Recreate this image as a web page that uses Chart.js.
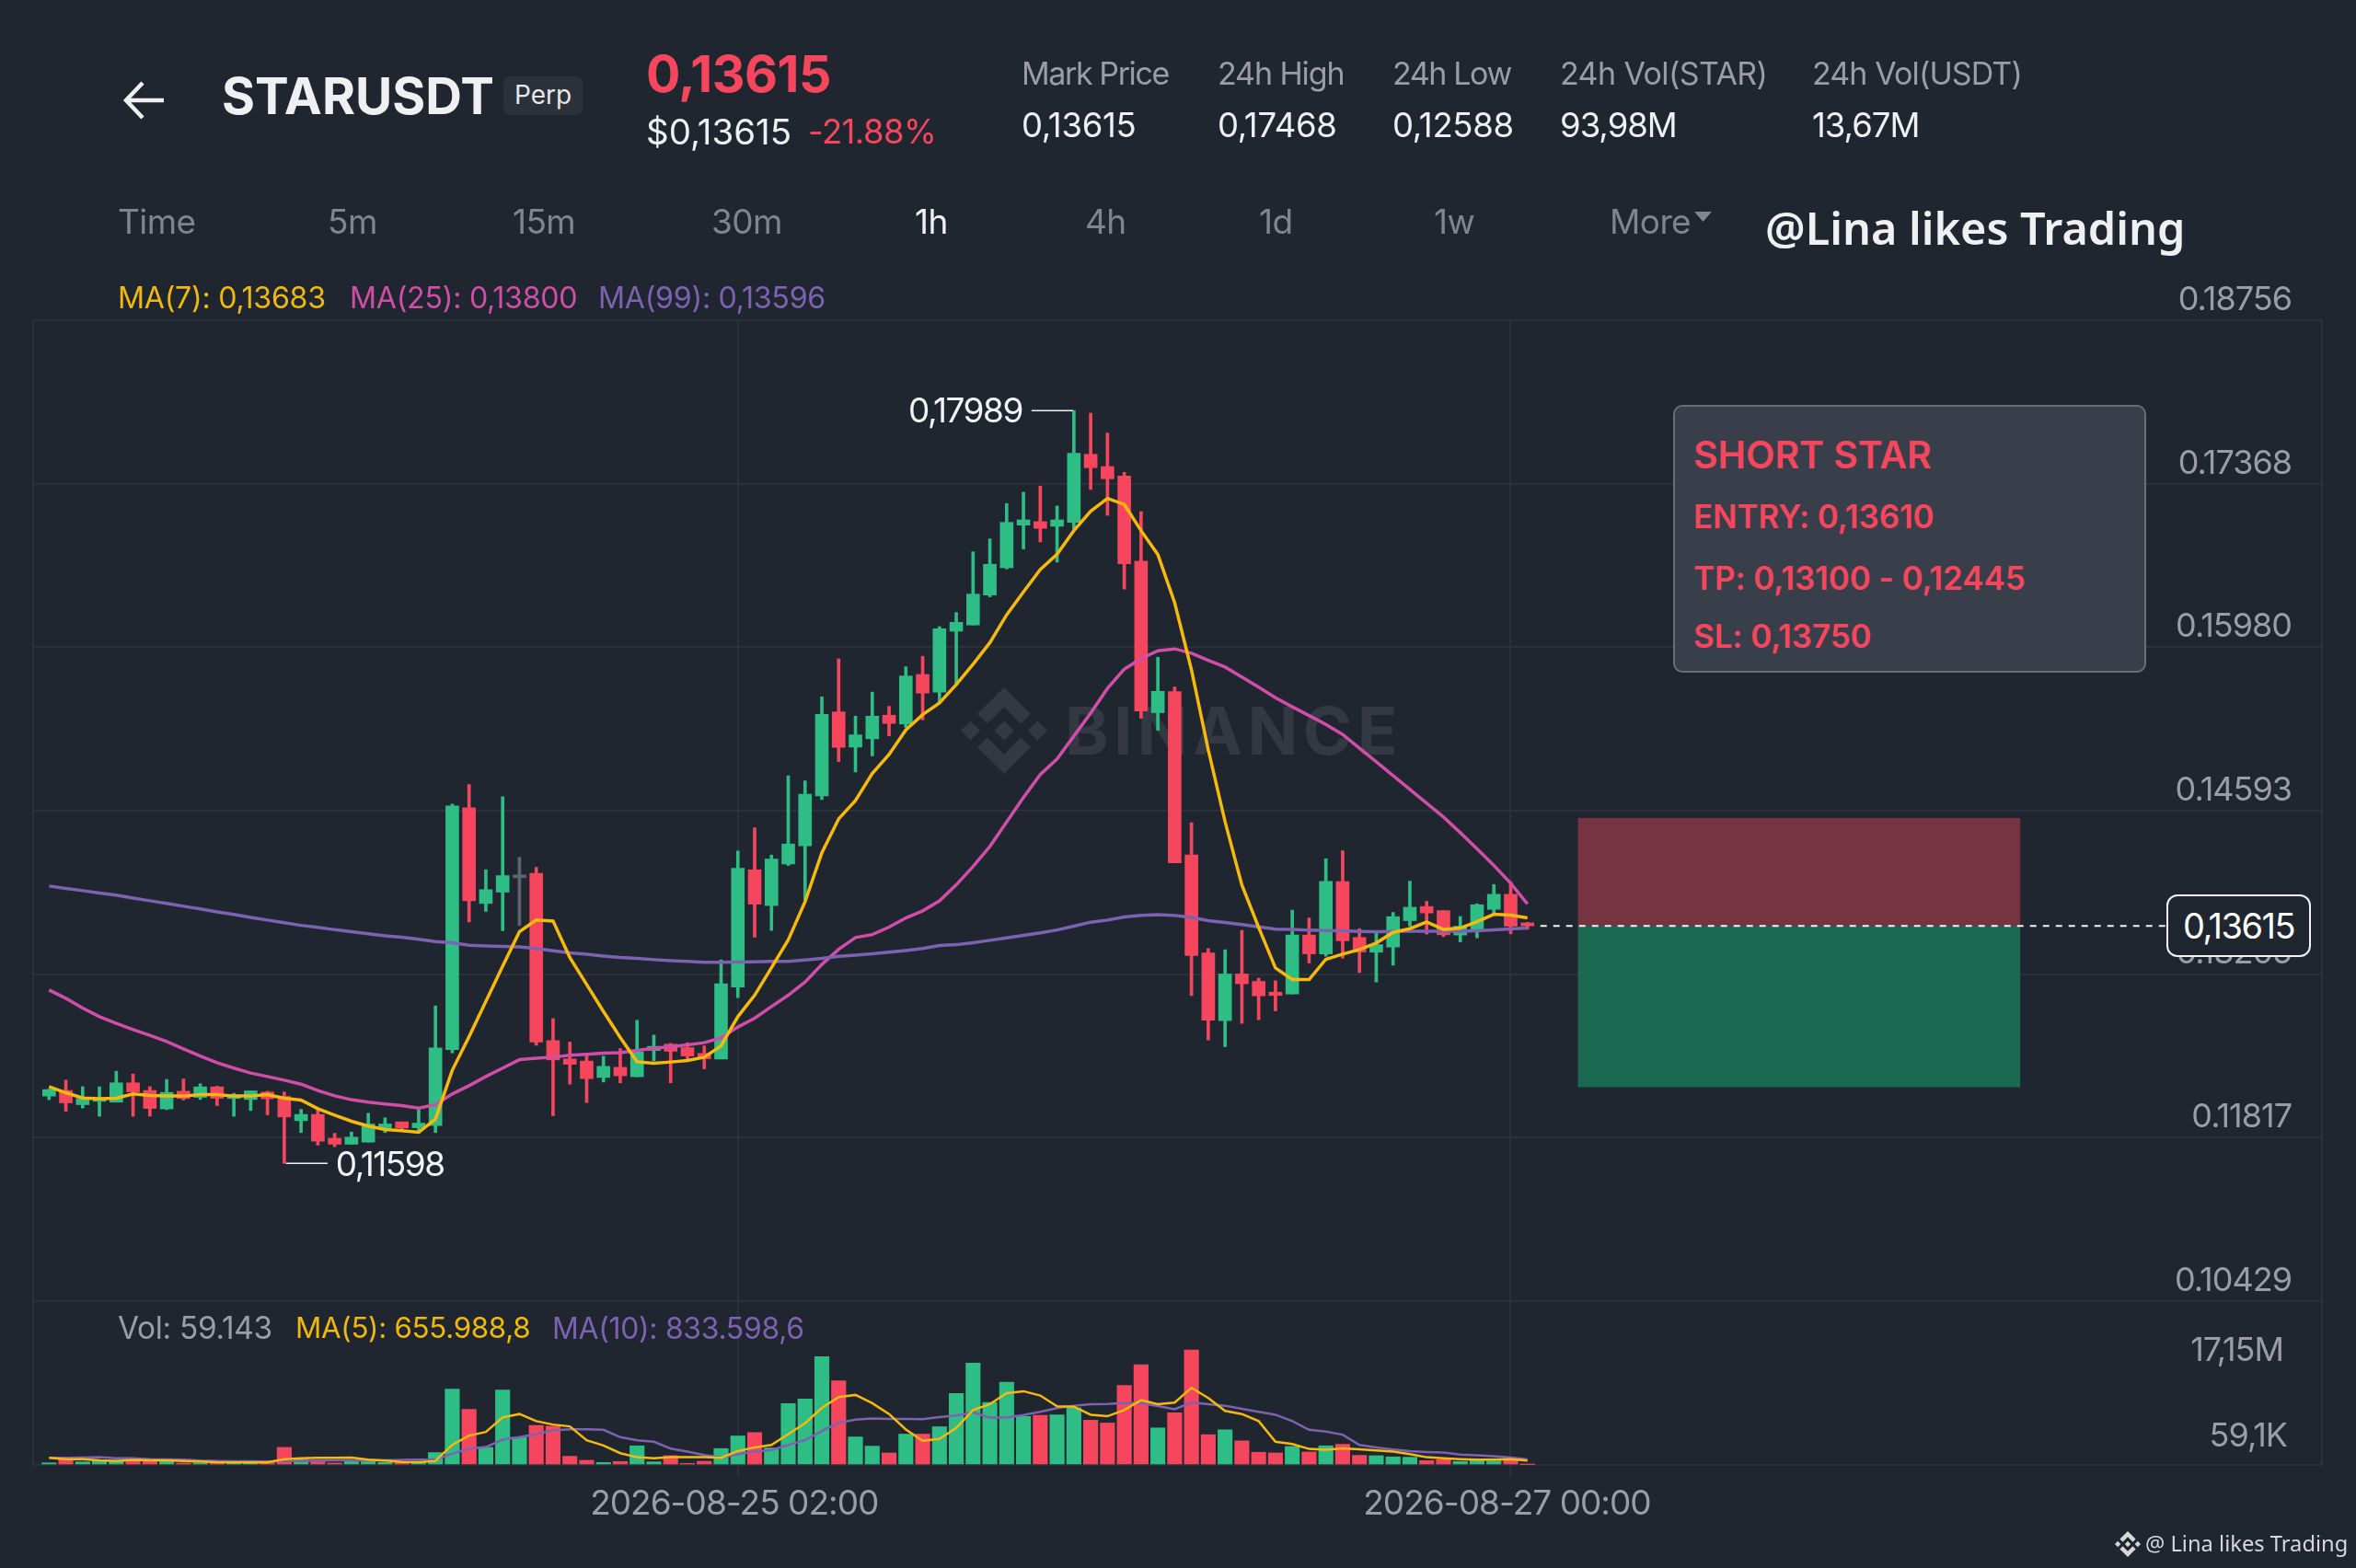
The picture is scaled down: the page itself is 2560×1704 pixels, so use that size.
<!DOCTYPE html>
<html>
<head>
<meta charset="utf-8">
<title>STARUSDT Perp</title>
<script src="https://cdn.jsdelivr.net/npm/chart.js@4"></script>
<style>
  html, body { margin: 0; padding: 0; background: #1f2630; }
  #page { position: relative; width: 2560px; height: 1704px; overflow: hidden; background: #1f2630; font-family: Inter, sans-serif; }
  #chart { position: absolute; left: 0; top: 0; }
  .t { position: absolute; white-space: nowrap; transform: translateY(-50%); line-height: 1; letter-spacing: -0.6px; }
  .grey { color: #9a9da5; }
  .dim { color: #80848d; }
  .white { color: #eef0f2; }
  .red { color: #f6465d; }
  .yellow { color: #f0b90b; }
  .pink { color: #d14ea8; }
  .purple { color: #7e62b2; }
  .stat { font-size: 34px; letter-spacing: -1.4px; }
  .val { font-size: 36.5px; letter-spacing: -0.3px; }
  .tab { font-size: 37px; }
  .ma { font-size: 32.2px; letter-spacing: -0.3px; }
  #panel { position: absolute; left: 1818px; top: 440px; width: 510px; height: 287px; background: #393f4a; border: 2px solid #686d76; border-radius: 10px; }
  #panel .t { font-weight: 600; color: #f6465d; font-size: 35px; left: 20px; letter-spacing: -0.1px; }
  #pricetag { position: absolute; left: 2354px; top: 972px; width: 153px; height: 64px; background: #1f2630; border: 2px solid #f2f3f5; border-radius: 12px; color: #fff; font-size: 38px; line-height: 64px; text-align: center; letter-spacing: -1.5px; }
  #badge { position: absolute; left: 547px; top: 83px; width: 86px; height: 42px; background: #2b3139; border-radius: 6px; color: #e6e8ea; font-size: 28px; line-height: 40px; text-align: center; }
  #watermark { position: absolute; left: 1044px; top: 747px; width: 94px; height: 94px; fill: #333843; }
  #marktext { position: absolute; left: 1157px; top: 794px; color: #333843; font-size: 72px; font-weight: 700; letter-spacing: 5.5px; transform: translateY(-50%); line-height: 1; }
</style>
</head>
<body>
<div id="page">
  <svg id="watermark" viewBox="0 0 126.61 126.61"><path d="M38.73 53.2l24.59-24.58 24.6 24.6 14.3-14.31L63.32 0 24.43 38.89z"/><path d="M0 63.31l14.3-14.31 14.31 14.31-14.31 14.3z"/><path d="M38.73 73.41l24.59 24.59 24.6-24.6 14.31 14.29-38.9 38.91-38.91-38.88-.02-.02z"/><path d="M98 63.31l14.3-14.31 14.31 14.3-14.31 14.32z"/><path d="M77.83 63.3L63.32 48.78 52.59 59.51l-1.24 1.23-2.54 2.54 14.51 14.5 14.51-14.47z"/></svg>
  <div id="marktext">BINANCE</div>
  <canvas id="chart" width="2560" height="1704"></canvas>

  <svg style="position:absolute;left:132px;top:86px" width="50" height="46" viewBox="0 0 50 46"><path d="M46 23H6M23 4L5 23l18 19" fill="none" stroke="#eef0f2" stroke-width="4.5"/></svg>
  <div class="t white" style="left:241px;top:104px;font-size:55px;font-weight:700;letter-spacing:0">STARUSDT</div>
  <div id="badge">Perp</div>
  <div class="t red" style="left:702px;top:80px;font-size:55.5px;font-weight:700;letter-spacing:-0.5px">0,13615</div>
  <div class="t white" style="left:702px;top:143px;font-size:38.5px;letter-spacing:0">$0,13615</div>
  <div class="t red" style="left:878px;top:143px;font-size:36.5px">-21.88%</div>

  <div class="t stat grey" style="left:1110px;top:80px">Mark Price</div>
  <div class="t val white" style="left:1110px;top:136px">0,13615</div>
  <div class="t stat grey" style="left:1323px;top:80px;letter-spacing:-1.1px">24h High</div>
  <div class="t val white" style="left:1323px;top:136px">0,17468</div>
  <div class="t stat grey" style="left:1513px;top:80px">24h Low</div>
  <div class="t val white" style="left:1513px;top:136px">0,12588</div>
  <div class="t stat grey" style="left:1695px;top:80px;letter-spacing:-0.6px">24h Vol(STAR)</div>
  <div class="t val white" style="left:1695px;top:136px;letter-spacing:-1px">93,98M</div>
  <div class="t stat grey" style="left:1969px;top:80px;letter-spacing:-0.9px">24h Vol(USDT)</div>
  <div class="t val white" style="left:1969px;top:136px;letter-spacing:-1px">13,67M</div>

  <div class="t tab dim" style="left:128px;top:240px">Time</div>
  <div class="t tab dim" style="left:356px;top:240px">5m</div>
  <div class="t tab dim" style="left:557px;top:240px">15m</div>
  <div class="t tab dim" style="left:773px;top:240px">30m</div>
  <div class="t tab white" style="left:994px;top:240px">1h</div>
  <div class="t tab dim" style="left:1179px;top:240px">4h</div>
  <div class="t tab dim" style="left:1368px;top:240px">1d</div>
  <div class="t tab dim" style="left:1558px;top:240px">1w</div>
  <div class="t tab dim" style="left:1749px;top:240px">More</div>
  <svg style="position:absolute;left:1841px;top:230px" width="19" height="11"><path d="M0 0h19L9.5 11z" fill="#80848d"/></svg>
  <div class="t" style="left:1918px;top:247px;font-family:'Noto Sans';font-size:48.6px;font-weight:600;color:#eef0f2;letter-spacing:0">@Lina likes Trading</div>

  <div class="t ma yellow" style="left:128px;top:324px">MA(7): 0,13683</div>
  <div class="t ma pink" style="left:380px;top:324px">MA(25): 0,13800</div>
  <div class="t ma purple" style="left:650px;top:324px">MA(99): 0,13596</div>

  <div class="t ma grey" style="left:128px;top:1444px;font-size:33.4px">Vol: 59.143</div>
  <div class="t ma yellow" style="left:321px;top:1444px;font-size:31.3px">MA(5): 655.988,8</div>
  <div class="t ma purple" style="left:600px;top:1444px;font-size:31.9px">MA(10): 833.598,6</div>

  <div id="panel">
    <div class="t" style="top:52px;font-size:41px">SHORT STAR</div>
    <div class="t" style="top:119px">ENTRY: 0,13610</div>
    <div class="t" style="top:186px">TP: 0,13100 - 0,12445</div>
    <div class="t" style="top:249px">SL: 0,13750</div>
  </div>
  <div id="pricetag">0,13615</div>

  <svg style="position:absolute;left:2298px;top:1664px;fill:#d5d7da" width="28" height="28" viewBox="0 0 126.61 126.61"><path d="M38.73 53.2l24.59-24.58 24.6 24.6 14.3-14.31L63.32 0 24.43 38.89z"/><path d="M0 63.31l14.3-14.31 14.31 14.31-14.31 14.3z"/><path d="M38.73 73.41l24.59 24.59 24.6-24.6 14.31 14.29-38.9 38.91-38.91-38.88-.02-.02z"/><path d="M98 63.31l14.3-14.31 14.31 14.3-14.31 14.32z"/><path d="M77.83 63.3L63.32 48.78 52.59 59.51l-1.24 1.23-2.54 2.54 14.51 14.5 14.51-14.47z"/></svg>
  <div class="t" style="left:2331px;top:1678px;font-family:'Noto Sans';font-size:23.7px;color:#d5d7da;letter-spacing:0">@ Lina likes Trading</div>
</div>

<script>
// Candles
const opens = [.12170,.12217,.12097,.12125,.12118,.12282,.12217,.12061,.12211,.12159,
  .12248,.12149,.12141,.12204,.12167,.11961,.12014,.11811,.11761,.11779,
  .11901,.11951,.11901,.11920,.12565,.14617,.13805,.13901,.14023,.14060,
  .12641,.12485,.12467,.12328,.12414,.12334,.12557,.12610,.12581,.12532,
  .12485,.13096,.14091,.13787,.14140,.14294,.14718,.15431,.15132,.15203,
  .15403,.15328,.15749,.15599,.16116,.16169,.16423,.16655,.17017,.17046,
  .17007,.17040,.17618,.17514,.17434,.16710,.15424,.15603,.14216,.13385,
  .12810,.13206,.13143,.13052,.13037,.13537,.13377,.13990,.13516,.13391,
  .13435,.13659,.13779,.13744,.13537,.13573,.13755,.13883,.13640];
const highs = [.12229,.12305,.12250,.12248,.12381,.12357,.12250,.12311,.12315,.12274,
  .12253,.12193,.12214,.12211,.12204,.12057,.12057,.11854,.11865,.12024,
  .11985,.11951,.12055,.12935,.14648,.14814,.14091,.14711,.14197,.14112,
  .12828,.12628,.12514,.12508,.12573,.12813,.12688,.12617,.12623,.12596,
  .13326,.14250,.14447,.14216,.14888,.14846,.15559,.15882,.15395,.15599,
  .15478,.15814,.15903,.16155,.16275,.16790,.16900,.17200,.17296,.17348,
  .17179,.17989,.17967,.17798,.17465,.17132,.15895,.15642,.14490,.13422,
  .13412,.13576,.13170,.13149,.13748,.13682,.14185,.14252,.13591,.13552,
  .13729,.13994,.13823,.13744,.13695,.13802,.13966,.13990,.13645];
const lows = [.12139,.12042,.12068,.11998,.12118,.11998,.12000,.12055,.12136,.12141,
  .12089,.11998,.12047,.12011,.11598,.11860,.11753,.11740,.11761,.11779,
  .11860,.11881,.11854,.11860,.12537,.13648,.13737,.13573,.13617,.12602,
  .12003,.12271,.12115,.12289,.12282,.12334,.12469,.12282,.12479,.12401,
  .12485,.13006,.13518,.13576,.14127,.13833,.14687,.15010,.14921,.15057,
  .15228,.15299,.15364,.15513,.15656,.16169,.16408,.16645,.16814,.16874,
  .16702,.16983,.17319,.17100,.16473,.15377,.15275,.14149,.13024,.12646,
  .12589,.12787,.12818,.12893,.13037,.13299,.13357,.13341,.13219,.13138,
  .13281,.13612,.13545,.13523,.13479,.13513,.13716,.13547,.13586];
const closes = [.12225,.12112,.12149,.12154,.12282,.12206,.12065,.12201,.12149,.12248,
  .12151,.12180,.12214,.12147,.11993,.12014,.11787,.11761,.11821,.11933,
  .11933,.11899,.11940,.12578,.14632,.13828,.13922,.14041,.14047,.12628,
  .12477,.12440,.12318,.12422,.12342,.12545,.12592,.12550,.12510,.12487,
  .13123,.14104,.13799,.14182,.14310,.14732,.15411,.15130,.15236,.15395,
  .15333,.15736,.15591,.16137,.16192,.16431,.16684,.17040,.17061,.16989,
  .17061,.17626,.17504,.17410,.16689,.15439,.15606,.14149,.13362,.12815,
  .13206,.13123,.13021,.13024,.13537,.13377,.13992,.13487,.13393,.13455,
  .13693,.13773,.13724,.13539,.13612,.13794,.13883,.13612,.13615];
const flatCandles = [28]; // the grey doji

const ma7 = [.12250,.12198,.12154,.12147,.12151,.12188,.12175,.12170,.12170,.12182,
  .12182,.12170,.12170,.12182,.12151,.12136,.12063,.12008,.11956,.11915,
  .11886,.11876,.11862,.11975,.12389,.12674,.12974,.13273,.13565,.13664,
  .13656,.13346,.13117,.12888,.12667,.12461,.12448,.12459,.12471,.12500,
  .12596,.12844,.13026,.13260,.13495,.13820,.14236,.14523,.14679,.14908,
  .15070,.15278,.15408,.15507,.15663,.15835,.16019,.16255,.16450,.16640,
  .16770,.16970,.17134,.17243,.17192,.16970,.16767,.16358,.15788,.15109,
  .14500,.13963,.13602,.13258,.13159,.13159,.13331,.13375,.13414,.13469,
  .13560,.13591,.13648,.13584,.13596,.13651,.13713,.13705,.13683];
const ma25 = [.13070,.13000,.12917,.12844,.12787,.12735,.12685,.12633,.12571,.12510,
  .12453,.12407,.12365,.12336,.12305,.12271,.12217,.12172,.12139,.12118,
  .12102,.12089,.12068,.12097,.12188,.12258,.12336,.12407,.12479,.12492,
  .12500,.12516,.12524,.12534,.12539,.12557,.12576,.12589,.12604,.12623,
  .12664,.12756,.12831,.12930,.13026,.13138,.13287,.13416,.13516,.13541,
  .13604,.13682,.13742,.13826,.13963,.14119,.14289,.14497,.14705,.14900,
  .15031,.15226,.15421,.15630,.15794,.15884,.15950,.15966,.15929,.15869,
  .15812,.15728,.15642,.15552,.15474,.15400,.15325,.15239,.15122,.15007,
  .14890,.14773,.14656,.14539,.14406,.14268,.14127,.13976,.13800];
const ma99 = [.13953,.13933,.13914,.13894,.13875,.13851,.13828,.13805,.13781,.13758,
  .13734,.13711,.13687,.13664,.13641,.13619,.13602,.13582,.13566,.13547,
  .13531,.13518,.13500,.13482,.13471,.13451,.13445,.13440,.13437,.13422,
  .13404,.13385,.13373,.13359,.13346,.13338,.13328,.13320,.13313,.13305,
  .13305,.13307,.13310,.13313,.13313,.13326,.13338,.13357,.13367,.13377,
  .13391,.13406,.13422,.13448,.13455,.13471,.13492,.13513,.13534,.13555,
  .13580,.13612,.13646,.13664,.13690,.13703,.13709,.13703,.13687,.13659,
  .13643,.13625,.13607,.13586,.13584,.13578,.13576,.13573,.13568,.13565,
  .13568,.13570,.13570,.13570,.13570,.13573,.13580,.13588,.13596];

// Volume in millions
const volumes = [.32,.92,.46,.69,.69,.69,.60,.69,.28,.32,
  .46,.41,.41,.32,2.62,.78,.69,.28,.78,.69,
  .37,.46,.46,1.84,11.31,8.28,2.62,11.17,4.14,5.89,
  5.79,1.29,.69,.37,.51,2.85,.46,1.38,.23,.55,
  2.44,4.32,4.83,2.53,9.15,9.84,16.14,12.55,4.18,2.80,
  1.79,4.60,4.60,5.70,10.67,15.17,9.33,12.32,7.22,7.40,
  7.45,8.51,6.67,6.25,11.86,14.94,5.52,7.77,17.15,4.51,
  5.24,3.59,1.89,1.79,2.76,1.93,2.85,3.08,1.43,1.38,
  1.20,1.15,.64,.78,.51,.69,.60,.92,.059];
const volMa5 = [1.06,.87,.87,.69,.60,.74,.69,.69,.60,.51,
  .41,.37,.37,.37,.87,1.01,1.06,1.06,1.10,.78,
  .64,.46,.41,.60,2.99,4.37,4.92,7.08,7.59,6.53,
  6.02,5.75,3.68,2.90,1.75,1.15,1.01,1.15,1.15,1.15,
  1.06,2.07,2.62,2.99,4.60,6.21,8.51,10.12,10.44,9.20,
  7.59,5.29,3.59,3.86,5.52,8.18,9.06,10.71,10.99,10.35,
  8.74,8.69,7.49,7.26,8.18,9.66,9.06,9.29,11.50,9.98,
  8.05,7.59,6.53,3.45,3.13,2.39,2.25,2.48,2.34,2.16,
  1.98,1.61,1.15,1.01,.87,.78,.78,.87,.656];
const volMa10 = [1.06,1.06,1.10,1.15,1.01,1.01,.87,.83,.78,.64,
  .60,.55,.55,.51,.60,.60,.64,.69,.69,.69,
  .69,.74,.78,.78,1.70,2.44,2.67,3.77,4.14,4.60,
  5.15,5.33,5.33,5.24,4.14,3.68,3.45,2.44,1.98,1.47,
  1.10,1.61,1.98,2.21,2.99,3.68,5.06,6.30,6.76,6.94,
  6.85,6.85,6.81,7.13,7.36,7.82,7.08,7.08,7.45,7.91,
  8.46,8.83,9.06,9.10,9.24,9.24,8.78,8.32,9.33,9.06,
  8.83,8.37,7.91,7.49,6.53,5.24,4.97,4.51,2.99,2.62,
  2.30,2.07,1.93,1.84,1.56,1.43,1.29,1.10,.834];

// Axis labels
const priceTicks = [.18756,.17368,.15980,.14593,.13205,.11817,.10429];
const priceLabels = ["0.18756","0.17368","0.15980","0.14593","0.13205","0.11817","0.10429"];
const timeTicks = [41,87];
const timeLabels = ["2026-08-25 02:00","2026-08-27 00:00"];
const volTop = 17.15, volTopLabel = "17,15M", volLast = 0.059143, volLastLabel = "59,1K";

// Position tool and last price
const riskZone = [.14531,.13615], rewardZone = [.13615,.12245];
const zoneRange = [91,117.33];
const lastPrice = .13615;

const GREEN = "#2ebd85", RED = "#f6465d", GREY = "#5e6470";
const YELLOW = "#f7b90c", PINK = "#d14ea8", PURPLE = "#7e62b2";
const GRID = "#2a313b";
const xMin = -0.948, xMax = 135.29;

const candleColors = opens.map((o, i) => flatCandles.includes(i) ? GREY : (closes[i] >= o ? GREEN : RED));
const volColors = opens.map((o, i) => closes[i] >= o ? GREEN : RED);
const pts = arr => arr.map((y, x) => ({ x, y }));

function maLine(data, color, yAxisID, width, order) {
  return { type: "line", data: pts(data), borderColor: color, borderWidth: width, pointRadius: 0, tension: 0, yAxisID, order };
}

// Zones under the candles
const zones = {
  id: "zones",
  beforeDatasetsDraw(chart) {
    const { ctx, scales: { x, y } } = chart;
    const fill = (range, color) => {
      ctx.fillStyle = color;
      ctx.fillRect(x.getPixelForValue(zoneRange[0]), y.getPixelForValue(range[0]),
        x.getPixelForValue(zoneRange[1]) - x.getPixelForValue(zoneRange[0]), y.getPixelForValue(range[1]) - y.getPixelForValue(range[0]));
    };
    fill(riskZone, "#763341");
    fill(rewardZone, "#1a6950");
  }
};

// Last price line, high/low callouts, bottom volume label
const overlays = {
  id: "overlays",
  afterDatasetsDraw(chart) {
    const { ctx, scales: { x, y, yVol } } = chart;
    ctx.save();
    ctx.strokeStyle = "#f2f3f5";
    ctx.lineWidth = 2;
    ctx.setLineDash([7, 7]);
    ctx.beginPath();
    ctx.moveTo(x.getPixelForValue(88) + 14, y.getPixelForValue(lastPrice));
    ctx.lineTo(2354, y.getPixelForValue(lastPrice));
    ctx.stroke();
    ctx.setLineDash([]);

    ctx.font = "37px Inter";
    ctx.letterSpacing = "-1.5px";
    ctx.fillStyle = "#f2f3f5";
    ctx.textBaseline = "middle";
    const hi = highs.indexOf(Math.max(...highs));
    const lo = lows.indexOf(Math.min(...lows));
    const hx = x.getPixelForValue(hi), hy = y.getPixelForValue(highs[hi]);
    const lx = x.getPixelForValue(lo), ly = y.getPixelForValue(lows[lo]);
    ctx.lineWidth = 1.5;
    ctx.beginPath();
    ctx.moveTo(hx - 46, hy); ctx.lineTo(hx - 1, hy);
    ctx.moveTo(lx + 2, ly); ctx.lineTo(lx + 47, ly);
    ctx.stroke();
    ctx.textAlign = "right";
    ctx.fillText("0,17989", hx - 56, hy + 1.5);
    ctx.textAlign = "left";
    ctx.fillText("0,11598", lx + 56, ly + 3);

    ctx.font = "36px Inter";
    ctx.letterSpacing = "-1px";
    ctx.fillStyle = "#9a9da5";
    ctx.textAlign = "right";
    ctx.fillText(volLastLabel, 2485, yVol.getPixelForValue(volLast) - 30);
    ctx.restore();
  },
  beforeDraw(chart) { chart.ctx.letterSpacing = "-1px"; }
};

new Chart(document.getElementById("chart"), {
  type: "bar",
  data: {
    datasets: [
      maLine(ma7, YELLOW, "y", 3.5, 1),
      maLine(ma25, PINK, "y", 3.5, 3),
      maLine(ma99, PURPLE, "y", 3.5, 2),
      { data: opens.map((o, i) => ({ x: i, y: [o, closes[i]] })), backgroundColor: candleColors, barThickness: 14, yAxisID: "y", order: 5 },
      { data: lows.map((l, i) => ({ x: i, y: [l, highs[i]] })), backgroundColor: candleColors, barThickness: 3, yAxisID: "y", order: 6 },
      maLine(volMa5, YELLOW, "yVol", 2.5, 7),
      maLine(volMa10, PURPLE, "yVol", 2.5, 8),
      { data: pts(volumes), backgroundColor: volColors, barThickness: 15.5, yAxisID: "yVol", order: 9 }
    ]
  },
  plugins: [zones, overlays],
  options: {
    responsive: false,
    devicePixelRatio: 1,
    animation: false,
    events: [],
    layout: { autoPadding: false, padding: { left: 36, right: 37, top: 348, bottom: 0 } },
    datasets: { bar: { grouped: false } },
    plugins: { legend: { display: false }, tooltip: { enabled: false } },
    scales: {
      x: {
        type: "linear", min: xMin, max: xMax, offset: false,
        grid: { offset: false, color: GRID, lineWidth: 2, tickLength: 13,
          tickColor: c => (c.tick && timeTicks.includes(c.tick.value)) ? GRID : "transparent" },
        border: { display: false },
        afterBuildTicks: s => { s.ticks = [xMin, ...timeTicks, xMax].map(value => ({ value })); },
        afterFit: s => { s.height = 112; },
        ticks: {
          autoSkip: false, maxRotation: 0, padding: 8, labelOffset: -4, color: "#9a9da5",
          font: { family: "Inter", size: 37 },
          callback: v => { const i = timeTicks.indexOf(v); return i < 0 ? "" : timeLabels[i]; }
        }
      },
      y: {
        type: "linear", position: "right", stack: "panes", stackWeight: 1066, weight: 1,
        min: .10429, max: .18756,
        grid: { color: GRID, lineWidth: 2, drawTicks: false },
        border: { display: false },
        afterBuildTicks: s => { s.ticks = priceTicks.map(value => ({ value })); },
        afterFit: s => { s.width = 0; },
        ticks: {
          mirror: true, padding: -33, labelOffset: -22, color: "#9a9da5",
          font: { family: "Inter", size: 36 }, autoSkip: false,
          callback: v => priceLabels[priceTicks.indexOf(v)]
        }
      },
      yVol: {
        type: "linear", position: "right", stack: "panes", stackWeight: 178, weight: 2,
        min: 0, max: 24.42,
        grid: { lineWidth: 2, drawTicks: false, color: c => (c.tick && c.tick.value === 0) ? GRID : "transparent" },
        border: { display: false },
        afterBuildTicks: s => { s.ticks = [0, volTop].map(value => ({ value })); },
        afterFit: s => { s.width = 0; },
        ticks: {
          mirror: true, padding: -42, labelOffset: 1, color: "#9a9da5",
          font: { family: "Inter", size: 36 }, autoSkip: false,
          callback: v => v === volTop ? volTopLabel : ""
        }
      }
    }
  }
});
</script>
</body>
</html>
